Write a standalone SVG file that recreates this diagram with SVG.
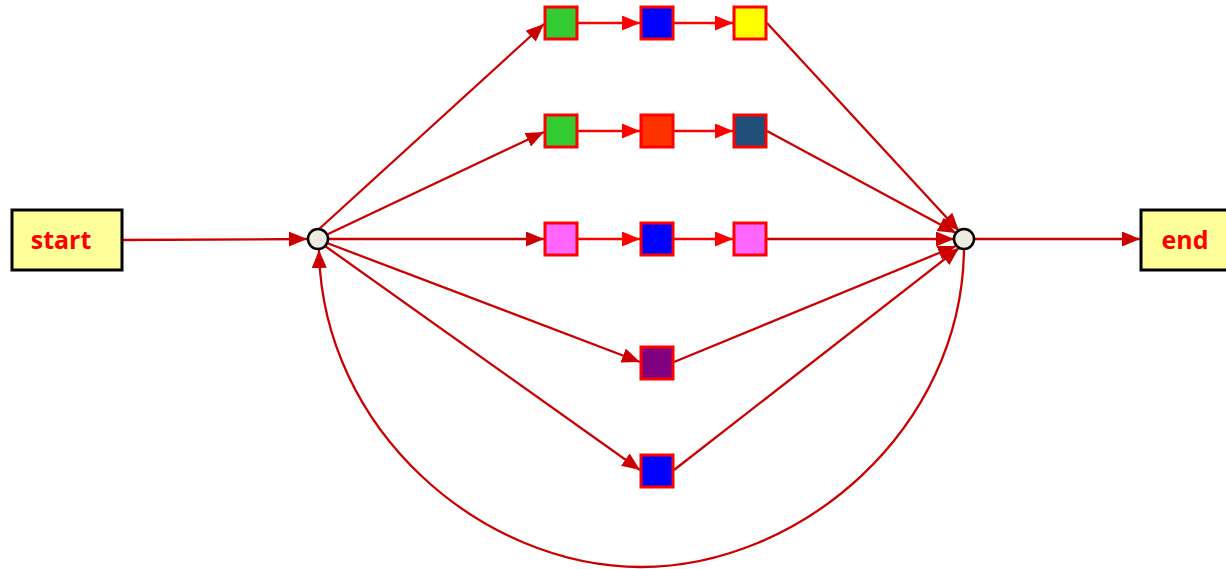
<svg xmlns="http://www.w3.org/2000/svg" width="1226" height="569" viewBox="0 0 1226 569">
<style>
.term{fill:#FFFF99;stroke:#000;stroke-width:3}
.lbl{font-family:"Open Sans","Liberation Sans",sans-serif;font-weight:bold;font-size:25px;fill:#FF0000;text-anchor:middle}
.junc{fill:#EEEBE0;stroke:#000;stroke-width:2.5}
.sq{stroke:#FF0000;stroke-width:3}
.c{fill:none;stroke:#CC0000;stroke-width:2.3}
.r{fill:none;stroke:#FF0000;stroke-width:2.3}
</style>
<defs>
<marker id="ah" viewBox="0 0 18 15" refX="18" refY="7.5" markerWidth="18" markerHeight="15" markerUnits="userSpaceOnUse" orient="auto">
<path d="M0,0 L18,7.5 L0,15 Z" fill="#CC0000"/>
</marker>
<marker id="ahr" viewBox="0 0 18 15" refX="18" refY="7.5" markerWidth="18" markerHeight="15" markerUnits="userSpaceOnUse" orient="auto">
<path d="M0,0 L18,7.5 L0,15 Z" fill="#FF0000"/>
</marker>
</defs>
<g id="connectors">
<line class="c" x1="122" y1="240" x2="307" y2="239" marker-end="url(#ah)"/>
<line class="c" x1="318" y1="230" x2="544" y2="24" marker-end="url(#ah)"/>
<line class="c" x1="326" y1="235" x2="544" y2="132" marker-end="url(#ah)"/>
<line class="c" x1="328" y1="239" x2="544" y2="239" marker-end="url(#ah)"/>
<line class="c" x1="327" y1="243" x2="640" y2="362" marker-end="url(#ah)"/>
<line class="c" x1="325" y1="246" x2="640" y2="470" marker-end="url(#ah)"/>
<line class="r" x1="578" y1="23" x2="640" y2="23" marker-end="url(#ahr)"/>
<line class="r" x1="674" y1="23" x2="733" y2="23" marker-end="url(#ahr)"/>
<line class="r" x1="578" y1="131" x2="640" y2="131" marker-end="url(#ahr)"/>
<line class="r" x1="674" y1="131" x2="733" y2="131" marker-end="url(#ahr)"/>
<line class="r" x1="578" y1="239" x2="640" y2="239" marker-end="url(#ahr)"/>
<line class="r" x1="674" y1="239" x2="733" y2="239" marker-end="url(#ahr)"/>
<line class="c" x1="767" y1="23" x2="959" y2="231" marker-end="url(#ah)"/>
<line class="c" x1="767" y1="131" x2="956" y2="233" marker-end="url(#ah)"/>
<line class="c" x1="767" y1="239" x2="954" y2="239" marker-end="url(#ah)"/>
<line class="c" x1="674" y1="362" x2="956" y2="246" marker-end="url(#ah)"/>
<line class="c" x1="674" y1="470" x2="959" y2="248" marker-end="url(#ah)"/>
<line class="c" x1="974" y1="239" x2="1140" y2="239" marker-end="url(#ah)"/>
<path class="c" d="M964,249 C962,430 800,567 641,567 C482,567 322,430 319,250" marker-end="url(#ah)"/>
</g>
<g id="start"><rect class="term" x="12" y="210" width="110" height="60"/><text class="lbl" x="61" y="249">start</text></g>
<g id="end"><rect class="term" x="1141" y="210" width="90" height="60"/><text class="lbl" x="1185" y="249">end</text></g>
<g id="split"><circle class="junc" cx="318" cy="239" r="10"/></g>
<g id="join"><circle class="junc" cx="964" cy="239" r="10"/></g>
<g id="a1"><rect class="sq" x="545" y="7" width="32" height="32" fill="#33CC33"/></g>
<g id="a2"><rect class="sq" x="641" y="7" width="32" height="32" fill="#0000FF"/></g>
<g id="a3"><rect class="sq" x="734" y="7" width="32" height="32" fill="#FFFF00"/></g>
<g id="b1"><rect class="sq" x="545" y="115" width="32" height="32" fill="#33CC33"/></g>
<g id="b2"><rect class="sq" x="641" y="115" width="32" height="32" fill="#FF3300"/></g>
<g id="b3"><rect class="sq" x="734" y="115" width="32" height="32" fill="#1F4E79"/></g>
<g id="c1"><rect class="sq" x="545" y="223" width="32" height="32" fill="#FF66FF"/></g>
<g id="c2"><rect class="sq" x="641" y="223" width="32" height="32" fill="#0000FF"/></g>
<g id="c3"><rect class="sq" x="734" y="223" width="32" height="32" fill="#FF66FF"/></g>
<g id="d1"><rect class="sq" x="641" y="347" width="32" height="32" fill="#800080"/></g>
<g id="e1"><rect class="sq" x="641" y="455" width="32" height="32" fill="#0000FF"/></g>
</svg>
